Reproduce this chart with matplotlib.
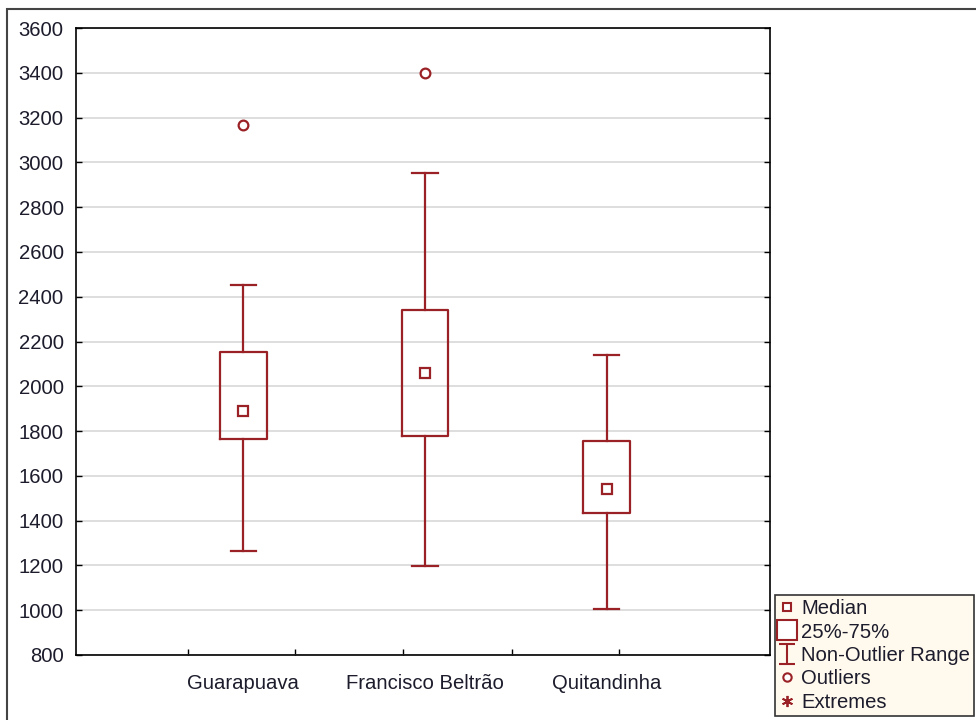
import numpy as np
import matplotlib.pyplot as plt
from matplotlib.lines import Line2D
from matplotlib.path import Path
from matplotlib.patches import Rectangle

plt.rcParams['font.family'] = ['Liberation Sans', 'DejaVu Sans']

# data
sites = ['Guarapuava', 'Francisco Beltrão', 'Quitandinha']
medians = [1890, 2060, 1540]
q1 = [1765, 1778, 1434]
q3 = [2152, 2342, 1755]
whis_lo = [1264, 1197, 1005]
whis_hi = [2452, 2952, 2139]
outliers = [[3166], [3398], []]

red = '#9a2226'
txt = '#1c1c2c'
fs = 14.6

fig = plt.figure(figsize=(9.76, 7.2), dpi=100)
# outer frame of the graph window
fig.add_artist(Rectangle((7 / 976, -0.01), 1.0, (720 - 9) / 720 + 0.01,
                         transform=fig.transFigure, fill=False,
                         edgecolor='#444444', lw=1.5))

ax = fig.add_axes([76 / 976, 65 / 720, (770 - 76) / 976, (655 - 28) / 720])

pos = np.arange(1, len(sites) + 1)
stats = []
for i in range(len(sites)):
    stats.append(dict(med=medians[i], q1=q1[i], q3=q3[i],
                      whislo=whis_lo[i], whishi=whis_hi[i], fliers=outliers[i]))

ax.bxp(stats, positions=pos, widths=0.255, capwidths=0.14,
       boxprops=dict(color=red, lw=1.6),
       whiskerprops=dict(color=red, lw=1.6),
       capprops=dict(color=red, lw=1.6),
       medianprops=dict(linestyle='none'),
       flierprops=dict(marker='o', markerfacecolor='white', markeredgecolor=red,
                       markersize=7, markeredgewidth=1.6),
       zorder=3)
ax.plot(pos, medians, 's', mfc='white', mec=red, ms=6.5, mew=1.6, zorder=4)

ax.set_ylim(800, 3600)
ax.set_yticks(np.arange(800, 3601, 200))
ax.set_xlim(0.078, 3.90)
ax.set_xticks(pos)
ax.set_xticklabels(sites)
ax.set_xticks([0.697, 1.286, 1.881, 2.48, 3.07], minor=True)
ax.yaxis.grid(True, color='#d8d8d8', lw=1.2)
ax.set_axisbelow(True)
ax.tick_params(axis='y', direction='in', length=4, labelsize=fs, labelcolor=txt,
               pad=9, right=True, width=1)
ax.tick_params(axis='x', which='major', length=0, labelsize=fs, labelcolor=txt, pad=14)
ax.tick_params(axis='x', which='minor', direction='in', length=4, width=1)
for s in ax.spines.values():
    s.set_linewidth(1.2)

# legend
ibeam = Path([(-0.4, 0.5), (0.4, 0.5), (0, 0.5), (0, -0.5), (-0.4, -0.5), (0.4, -0.5)],
             [Path.MOVETO, Path.LINETO, Path.MOVETO, Path.LINETO, Path.MOVETO, Path.LINETO])
handles = [
    Line2D([], [], ls='none', marker='s', mfc='white', mec=red, ms=6, mew=1.5),
    Line2D([], [], ls='none', marker='s', mfc='white', mec=red, ms=14, mew=1.5),
    Line2D([], [], ls='none', marker=ibeam, mec=red, ms=15, mew=1.5),
    Line2D([], [], ls='none', marker='o', mfc='white', mec=red, ms=6, mew=1.5),
    Line2D([], [], ls='none', marker=(6, 2, 0), mec=red, ms=8, mew=1.3),
]
labels = ['Median', '25%-75%', 'Non-Outlier Range', 'Outliers', 'Extremes']
leg = fig.legend(handles, labels, loc='lower left', bbox_to_anchor=(775 / 976, 4 / 720),
                 frameon=True, fancybox=False, fontsize=fs, handlelength=0.8,
                 handletextpad=0.3, labelspacing=0.22, borderpad=0.2, borderaxespad=0)
leg.get_frame().set_facecolor('#fff9ee')
leg.get_frame().set_edgecolor('#333333')
leg.get_frame().set_linewidth(1.2)
leg.get_frame().set_alpha(1)
for t in leg.get_texts():
    t.set_color(txt)

fig.savefig('out.png', dpi=100)
